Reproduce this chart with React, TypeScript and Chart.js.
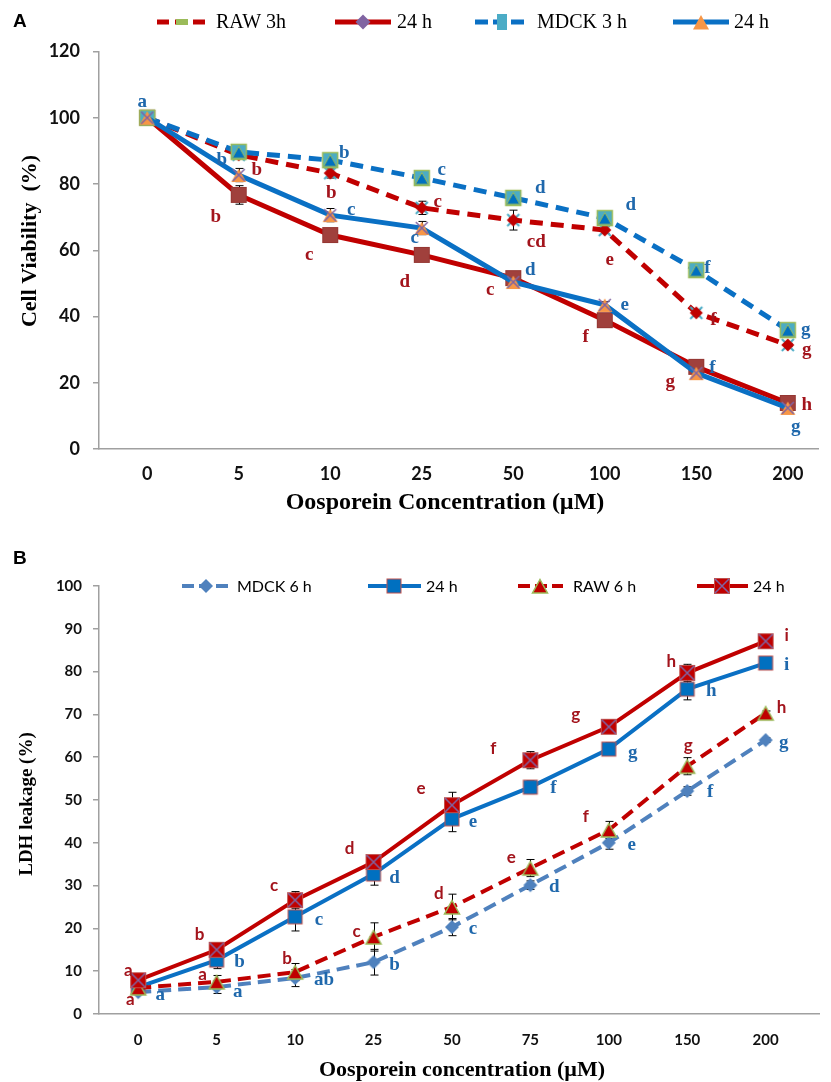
import React, { useEffect, useRef } from 'react';
import { Chart, registerables } from 'chart.js';

Chart.register(...registerables);

// ---------------- Panel A data ----------------
const concA = ['0', '5', '10', '25', '50', '100', '150', '200'];
const rawA3h = [100, 88.8, 83.3, 72.8, 69.1, 66.1, 41.1, 31.4];
const rawA24h = [100, 76.7, 64.6, 58.6, 51.6, 38.9, 24.8, 13.9];
const mdckA3h = [100, 89.7, 87.2, 81.8, 75.8, 69.7, 54.0, 35.9];
const mdckA24h = [100, 82.7, 70.6, 66.7, 50.4, 43.5, 22.9, 12.4];

const errRawA3h = [0.5, 1, 1.5, 2, 3, 1, 1, 0.5];
const errRawA24h = [0.5, 2.8, 1, 2, 1, 1, 1, 0.5];
const errMdckA3h = [0.5, 1, 1.5, 1.5, 2, 1, 1, 0.5];
const errMdckA24h = [0.5, 2, 2, 2, 1, 1, 1, 0.5];

const lettersRawA3h = ['', 'b', 'b', 'c', 'cd', 'e', 'f', 'g'];
const lettersRawA24h = ['', 'b', 'c', 'd', 'c', 'f', 'g', 'h'];
const lettersMdckA3h = ['a', '', 'b', 'c', 'd', 'd', 'f', 'g'];
const lettersMdckA24h = ['', 'b', 'c', 'c', 'd', 'e', 'f', 'g'];

// label offsets (px, relative to each point)
const offRawA3h = [[0, 0], [18, 15], [1, 20], [16, -6], [23, 22], [5, 30], [17, 7], [19, 5]];
const offRawA24h = [[0, 0], [-23, 22], [-21, 20], [-17, 27], [-23, 12], [-19, 17], [-26, 15], [19, 2]];
const offMdckA3h = [[-5, -16], [0, 0], [14, -7], [20, -8], [27, -10], [26, -13], [11, -2], [18, 0]];
const offMdckA24h = [[0, 0], [-17, -15], [21, -5], [-7, 10], [17, -12], [20, 0], [16, -5], [8, 19]];

// ---------------- Panel B data ----------------
const concB = ['0', '5', '10', '25', '50', '75', '100', '150', '200'];
const mdckB6h = [5.1, 6.3, 8.4, 12.1, 20.3, 30.1, 40.0, 52.1, 64.0];
const mdckB24h = [6.3, 12.6, 22.7, 32.7, 45.6, 53.0, 61.9, 75.9, 82.0];
const rawB6h = [6.1, 7.5, 9.8, 18.0, 25.0, 34.1, 43.0, 57.9, 70.3];
const rawB24h = [7.9, 15.0, 26.6, 35.5, 48.8, 59.3, 67.1, 79.7, 87.1];

const errMdckB6h = [0.5, 1.5, 2, 3, 2, 1, 1.5, 1, 0.5];
const errMdckB24h = [0.5, 2, 3.3, 2.6, 3, 1.5, 1.5, 2.5, 0.5];
const errRawB6h = [0.5, 1.5, 2, 3.3, 3, 2, 2, 2, 0.5];
const errRawB24h = [0.5, 1, 2, 1.5, 3, 2, 1.5, 2, 0.5];

const lettersMdckB6h = ['a', 'a', 'ab', 'b', 'c', 'd', 'e', 'f', 'g'];
const lettersMdckB24h = ['', 'b', 'c', 'd', 'e', 'f', 'g', 'h', 'i'];
const lettersRawB6h = ['a', 'a', 'b', 'c', 'd', 'e', 'f', 'g', 'h'];
const lettersRawB24h = ['a', 'b', 'c', 'd', 'e', 'f', 'g', 'h', 'i'];

const offMdckB6h = [[22, 3], [21, 5], [29, 2], [21, 3], [21, 2], [24, 2], [23, 2], [23, 1], [18, 3]];
const offMdckB24h = [[0, 0], [23, 2], [24, 3], [21, 4], [21, 3], [23, 1], [24, 4], [24, 2], [21, 2]];
const offRawB6h = [[-8, 12], [-14, -7], [-8, -14], [-17, -5], [-13, -13], [-19, -11], [-23, -13], [1, -21], [16, -6]];
const offRawB24h = [[-10, -10], [-17, -15], [-21, -15], [-24, -14], [-31, -17], [-37, -12], [-33, -12], [-16, -11], [21, -6]];

// ---------------- colours ----------------
const RED = '#C00000';
const BLUE = '#0A70C4';
const BLUE_LIGHT = '#4F81BD';
const RED_TXT = '#A3141C';
const BLUE_TXT = '#1F68AC';
const AXIS = '#A0A0A0';

type Ctx = CanvasRenderingContext2D;
type Mk = (ctx: Ctx, x: number, y: number) => void;

function diamond(ctx: Ctx, x: number, y: number, r: number, fill: string, stroke?: string, lw = 1) {
  ctx.beginPath();
  ctx.moveTo(x, y - r); ctx.lineTo(x + r, y); ctx.lineTo(x, y + r); ctx.lineTo(x - r, y); ctx.closePath();
  ctx.fillStyle = fill; ctx.fill();
  if (stroke) { ctx.strokeStyle = stroke; ctx.lineWidth = lw; ctx.stroke(); }
}
function square(ctx: Ctx, x: number, y: number, h: number, fill: string, stroke?: string, lw = 1) {
  ctx.fillStyle = fill; ctx.fillRect(x - h, y - h, 2 * h, 2 * h);
  if (stroke) { ctx.strokeStyle = stroke; ctx.lineWidth = lw; ctx.strokeRect(x - h, y - h, 2 * h, 2 * h); }
}
function triangle(ctx: Ctx, x: number, y: number, r: number, fill: string, stroke?: string, lw = 1) {
  ctx.beginPath();
  ctx.moveTo(x, y - r); ctx.lineTo(x + r, y + r * 0.8); ctx.lineTo(x - r, y + r * 0.8); ctx.closePath();
  ctx.fillStyle = fill; ctx.fill();
  if (stroke) { ctx.strokeStyle = stroke; ctx.lineWidth = lw; ctx.stroke(); }
}
function cross(ctx: Ctx, x: number, y: number, r: number, color: string, lw = 1.5) {
  ctx.beginPath();
  ctx.moveTo(x - r, y - r); ctx.lineTo(x + r, y + r);
  ctx.moveTo(x + r, y - r); ctx.lineTo(x - r, y + r);
  ctx.strokeStyle = color; ctx.lineWidth = lw; ctx.stroke();
}

// plot markers
const mkRawA3: Mk = (c, x, y) => { cross(c, x, y, 6, '#4BACC6', 2); diamond(c, x, y, 6.5, RED); };
const mkRawA24: Mk = (c, x, y) => square(c, x, y, 7.5, '#A0403C', '#953733', 1);
const mkMdckA3: Mk = (c, x, y) => { square(c, x, y, 7.5, '#4BACC6', '#9BBB59', 1.5); triangle(c, x, y + 1, 6.5, '#0070C0', '#9BBB59', 1); };
const mkMdckA24: Mk = (c, x, y) => { triangle(c, x, y + 1, 7.5, '#F79646'); cross(c, x, y, 6, '#8064A2', 1.5); };

const mkMdckB6: Mk = (c, x, y) => diamond(c, x, y, 7, BLUE_LIGHT);
const mkMdckB24: Mk = (c, x, y) => square(c, x, y, 7, '#0070C0', '#C0504D', 1);
const mkRawB6: Mk = (c, x, y) => triangle(c, x, y + 1, 7.5, RED, '#9BBB59', 1.5);
const mkRawB24: Mk = (c, x, y) => { square(c, x, y, 7.5, RED, '#C0504D', 1); cross(c, x, y, 7, '#8064A2', 1.5); };

// legend markers (panel A uses different legend symbols)
const lgRawA3: Mk = (c, x, y) => { c.fillStyle = '#9BBB59'; c.fillRect(x - 6, y - 3, 12, 6); };
const lgRawA24: Mk = (c, x, y) => diamond(c, x, y, 7.5, '#8064A2');
const lgMdckA3: Mk = (c, x, y) => { c.fillStyle = '#4BACC6'; c.fillRect(x - 5, y - 8, 10, 16); };
const lgMdckA24: Mk = (c, x, y) => triangle(c, x, y + 1, 8, '#F79646');

function markerImage(fn: Mk, size = 20): HTMLCanvasElement {
  const cv = document.createElement('canvas');
  cv.width = size; cv.height = size;
  const c = cv.getContext('2d') as Ctx;
  fn(c, size / 2, size / 2);
  return cv;
}

const toXY = (arr: number[]) => arr.map((v, i) => ({ x: i, y: v }));

const errorBarPlugin = {
  id: 'errorBars',
  beforeDatasetsDraw(chart: any) {
    const ctx = chart.ctx as Ctx;
    const ys = chart.scales.y;
    chart.data.datasets.forEach((ds: any, i: number) => {
      if (!ds.errors) return;
      const meta = chart.getDatasetMeta(i);
      ctx.save();
      ctx.strokeStyle = '#000';
      ctx.lineWidth = 1;
      meta.data.forEach((pt: any, j: number) => {
        const e = ds.errors[j];
        if (!e) return;
        const v = ds.data[j].y;
        const yt = ys.getPixelForValue(v + e);
        const yb = ys.getPixelForValue(v - e);
        const x = Math.round(pt.x) + 0.5;
        ctx.beginPath();
        ctx.moveTo(x, yt); ctx.lineTo(x, yb);
        ctx.moveTo(x - 4, yt); ctx.lineTo(x + 4, yt);
        ctx.moveTo(x - 4, yb); ctx.lineTo(x + 4, yb);
        ctx.stroke();
      });
      ctx.restore();
    });
  },
};

const letterPlugin = {
  id: 'letters',
  afterDatasetsDraw(chart: any) {
    const ctx = chart.ctx as Ctx;
    chart.data.datasets.forEach((ds: any, i: number) => {
      if (!ds.letters) return;
      const meta = chart.getDatasetMeta(i);
      ctx.save();
      ctx.fillStyle = ds.letterColor;
      ctx.font = ds.letterFont;
      ctx.textAlign = 'center';
      ctx.textBaseline = 'middle';
      meta.data.forEach((pt: any, j: number) => {
        const t = ds.letters[j];
        if (!t) return;
        const o = ds.letterOffsets[j];
        ctx.fillText(t, pt.x + o[0], pt.y + o[1]);
      });
      ctx.restore();
    });
  },
};

interface LegendItem { text: string; color: string; dash: number[]; lw: number; x0: number; x1: number; mx: number; tx: number; marker: Mk; }
interface DecorCfg {
  panel: { text: string; x: number; y: number; font: string };
  legendY: number;
  legendFont: string;
  legend: LegendItem[];
  xTitle: { text: string; x: number; y: number; font: string };
  yTitle: { text: string; x: number; y: number; font: string };
}

function makeDecor(cfg: DecorCfg) {
  return {
    id: 'decor',
    afterDraw(chart: any) {
      const ctx = chart.ctx as Ctx;
      ctx.save();
      ctx.fillStyle = '#000';
      ctx.textAlign = 'left';
      ctx.textBaseline = 'middle';
      ctx.font = cfg.panel.font;
      ctx.fillText(cfg.panel.text, cfg.panel.x, cfg.panel.y);
      cfg.legend.forEach((it) => {
        ctx.save();
        ctx.strokeStyle = it.color;
        ctx.lineWidth = it.lw;
        ctx.setLineDash(it.dash);
        ctx.beginPath();
        ctx.moveTo(it.x0, cfg.legendY);
        ctx.lineTo(it.x1, cfg.legendY);
        ctx.stroke();
        ctx.setLineDash([]);
        it.marker(ctx, it.mx, cfg.legendY);
        ctx.restore();
        ctx.fillStyle = '#000';
        ctx.font = cfg.legendFont;
        ctx.textAlign = 'left';
        ctx.textBaseline = 'middle';
        ctx.fillText(it.text, it.tx, cfg.legendY + 1);
      });
      ctx.textAlign = 'center';
      ctx.font = cfg.xTitle.font;
      ctx.fillText(cfg.xTitle.text, cfg.xTitle.x, cfg.xTitle.y);
      ctx.translate(cfg.yTitle.x, cfg.yTitle.y);
      ctx.rotate(-Math.PI / 2);
      ctx.font = cfg.yTitle.font;
      ctx.fillText(cfg.yTitle.text, 0, 0);
      ctx.restore();
    },
  };
}

const SERIF = '"Liberation Serif", "Times New Roman", serif';

const decorA = makeDecor({
  panel: { text: 'A', x: 13, y: 22, font: 'bold 19px "Liberation Sans", Arial, sans-serif' },
  legendY: 22,
  legendFont: `20px ${SERIF}`,
  legend: [
    { text: 'RAW 3h', color: RED, dash: [12, 6], lw: 5, x0: 157, x1: 206, mx: 182, tx: 216, marker: lgRawA3 },
    { text: '24 h', color: RED, dash: [], lw: 5, x0: 335, x1: 391, mx: 363, tx: 397, marker: lgRawA24 },
    { text: 'MDCK 3 h', color: BLUE, dash: [13, 5], lw: 5, x0: 475, x1: 525, mx: 502, tx: 537, marker: lgMdckA3 },
    { text: '24 h', color: BLUE, dash: [], lw: 5, x0: 673, x1: 729, mx: 701, tx: 734, marker: lgMdckA24 },
  ],
  xTitle: { text: 'Oosporein Concentration (µM)', x: 445, y: 503, font: `bold 24px ${SERIF}` },
  yTitle: { text: 'Cell Viability  (%)', x: 30, y: 241, font: `bold 22px ${SERIF}` },
});

const decorB = makeDecor({
  panel: { text: 'B', x: 13, y: 19, font: 'bold 19px "Liberation Sans", Arial, sans-serif' },
  legendY: 46,
  legendFont: '16px Lato, "Open Sans", sans-serif',
  legend: [
    { text: 'MDCK 6 h', color: BLUE_LIGHT, dash: [12, 5], lw: 4, x0: 182, x1: 228, mx: 206, tx: 237, marker: mkMdckB6 },
    { text: '24 h', color: BLUE, dash: [], lw: 4, x0: 368, x1: 421, mx: 394, tx: 426, marker: mkMdckB24 },
    { text: 'RAW 6 h', color: RED, dash: [12, 5], lw: 4, x0: 518, x1: 563, mx: 540, tx: 573, marker: mkRawB6 },
    { text: '24 h', color: RED, dash: [], lw: 4, x0: 697, x1: 748, mx: 722, tx: 753, marker: mkRawB24 },
  ],
  xTitle: { text: 'Oosporein concentration (µM)', x: 462, y: 530, font: `bold 22px ${SERIF}` },
  yTitle: { text: 'LDH leakage (%)', x: 27, y: 264, font: `bold 19px ${SERIF}` },
});

function makeChartA(canvas: HTMLCanvasElement) {
  const letterFont = `bold 19px ${SERIF}`;
  const tickFont = { family: 'Lato', size: 18, weight: 'bold' as const };
  const H = 530;
  return new Chart(canvas, {
    type: 'line',
    data: {
      datasets: [
        {
          label: 'MDCK 24 h', data: toXY(mdckA24h), borderColor: BLUE, borderWidth: 5, borderDash: [],
          pointStyle: markerImage(mkMdckA24), pointRadius: 8, tension: 0, fill: false,
          errors: errMdckA24h, letters: lettersMdckA24h, letterOffsets: offMdckA24h, letterColor: BLUE_TXT, letterFont,
        } as any,
        {
          label: 'MDCK 3 h', data: toXY(mdckA3h), borderColor: BLUE, borderWidth: 5, borderDash: [13, 8],
          pointStyle: markerImage(mkMdckA3), pointRadius: 8, tension: 0, fill: false,
          errors: errMdckA3h, letters: lettersMdckA3h, letterOffsets: offMdckA3h, letterColor: BLUE_TXT, letterFont,
        } as any,
        {
          label: 'RAW 24 h', data: toXY(rawA24h), borderColor: RED, borderWidth: 5, borderDash: [],
          pointStyle: markerImage(mkRawA24), pointRadius: 8, tension: 0, fill: false,
          errors: errRawA24h, letters: lettersRawA24h, letterOffsets: offRawA24h, letterColor: RED_TXT, letterFont,
        } as any,
        {
          label: 'RAW 3h', data: toXY(rawA3h), borderColor: RED, borderWidth: 5, borderDash: [13, 8],
          pointStyle: markerImage(mkRawA3), pointRadius: 8, tension: 0, fill: false,
          errors: errRawA3h, letters: lettersRawA3h, letterOffsets: offRawA3h, letterColor: RED_TXT, letterFont,
        } as any,
      ],
    },
    options: {
      animation: false,
      responsive: false,
      events: [],
      layout: { padding: { top: 51.5, left: 0, right: 1, bottom: 0 } },
      plugins: { legend: { display: false }, tooltip: { enabled: false }, title: { display: false } },
      scales: {
        x: {
          type: 'linear', min: -0.527, max: 7.33,
          afterBuildTicks: (s: any) => { s.ticks = concA.map((_, i) => ({ value: i })); },
          ticks: { callback: (v: any) => concA[v] ?? '', font: tickFont, color: '#111', padding: 14, maxRotation: 0, autoSkip: false },
          grid: { display: false, drawTicks: false },
          border: { color: AXIS, width: 1.5 },
          afterFit: (s: any) => { s.height = H - 449; },
        },
        y: {
          min: 0, max: 120,
          ticks: { stepSize: 20, font: tickFont, color: '#111', padding: 13 },
          grid: { drawOnChartArea: false, drawTicks: true, tickLength: 6, color: AXIS, lineWidth: 1.5 },
          border: { color: AXIS, width: 1.5 },
          afterFit: (s: any) => { s.width = 99; },
        },
      },
    } as any,
    plugins: [errorBarPlugin, letterPlugin, decorA],
  });
}

function makeChartB(canvas: HTMLCanvasElement) {
  const redFont = 'bold 17px Lato, "Open Sans", sans-serif';
  const blueFont = `bold 19px ${SERIF}`;
  const tickFont = { family: 'Lato', size: 15, weight: 'bold' as const };
  const H = 542;
  return new Chart(canvas, {
    type: 'line',
    data: {
      datasets: [
        {
          label: '24 h', data: toXY(rawB24h), borderColor: RED, borderWidth: 4, borderDash: [],
          pointStyle: markerImage(mkRawB24), pointRadius: 8, tension: 0, fill: false,
          errors: errRawB24h, letters: lettersRawB24h, letterOffsets: offRawB24h, letterColor: RED_TXT, letterFont: redFont,
        } as any,
        {
          label: 'RAW 6 h', data: toXY(rawB6h), borderColor: RED, borderWidth: 4, borderDash: [13, 7],
          pointStyle: markerImage(mkRawB6), pointRadius: 8, tension: 0, fill: false,
          errors: errRawB6h, letters: lettersRawB6h, letterOffsets: offRawB6h, letterColor: RED_TXT, letterFont: redFont,
        } as any,
        {
          label: '24 h', data: toXY(mdckB24h), borderColor: BLUE, borderWidth: 4, borderDash: [],
          pointStyle: markerImage(mkMdckB24), pointRadius: 8, tension: 0, fill: false,
          errors: errMdckB24h, letters: lettersMdckB24h, letterOffsets: offMdckB24h, letterColor: BLUE_TXT, letterFont: blueFont,
        } as any,
        {
          label: 'MDCK 6 h', data: toXY(mdckB6h), borderColor: BLUE_LIGHT, borderWidth: 4, borderDash: [13, 7],
          pointStyle: markerImage(mkMdckB6), pointRadius: 8, tension: 0, fill: false,
          errors: errMdckB6h, letters: lettersMdckB6h, letterOffsets: offMdckB6h, letterColor: BLUE_TXT, letterFont: blueFont,
        } as any,
      ],
    },
    options: {
      animation: false,
      responsive: false,
      events: [],
      layout: { padding: { top: 46, left: 0, right: 5, bottom: 0 } },
      plugins: { legend: { display: false }, tooltip: { enabled: false }, title: { display: false } },
      scales: {
        x: {
          type: 'linear', min: -0.5, max: 8.68,
          afterBuildTicks: (s: any) => { s.ticks = concB.map((_, i) => ({ value: i })); },
          ticks: { callback: (v: any) => concB[v] ?? '', font: tickFont, color: '#111', padding: 17, maxRotation: 0, autoSkip: false },
          grid: { display: false, drawTicks: false },
          border: { color: AXIS, width: 1.5 },
          afterFit: (s: any) => { s.height = H - 474; },
        },
        y: {
          min: 0, max: 100,
          ticks: { stepSize: 10, font: tickFont, color: '#111', padding: 11 },
          grid: { drawOnChartArea: false, drawTicks: true, tickLength: 6, color: AXIS, lineWidth: 1.5 },
          border: { color: AXIS, width: 1.5 },
          afterFit: (s: any) => { s.width = 99; },
        },
      },
    } as any,
    plugins: [errorBarPlugin, letterPlugin, decorB],
  });
}

export default function App() {
  const refA = useRef<HTMLCanvasElement>(null);
  const refB = useRef<HTMLCanvasElement>(null);

  useEffect(() => {
    if (!refA.current || !refB.current) return;
    const a = makeChartA(refA.current);
    const b = makeChartB(refB.current);
    return () => { a.destroy(); b.destroy(); };
  }, []);

  return (
    <div style={{ position: 'absolute', left: 0, top: 0, width: 831, height: 1082, background: '#fff' }}>
      <canvas ref={refA} width={831} height={530} style={{ position: 'absolute', left: 0, top: 0, width: 831, height: 530 }} />
      <canvas ref={refB} width={831} height={542} style={{ position: 'absolute', left: 0, top: 540, width: 831, height: 542 }} />
    </div>
  );
}
